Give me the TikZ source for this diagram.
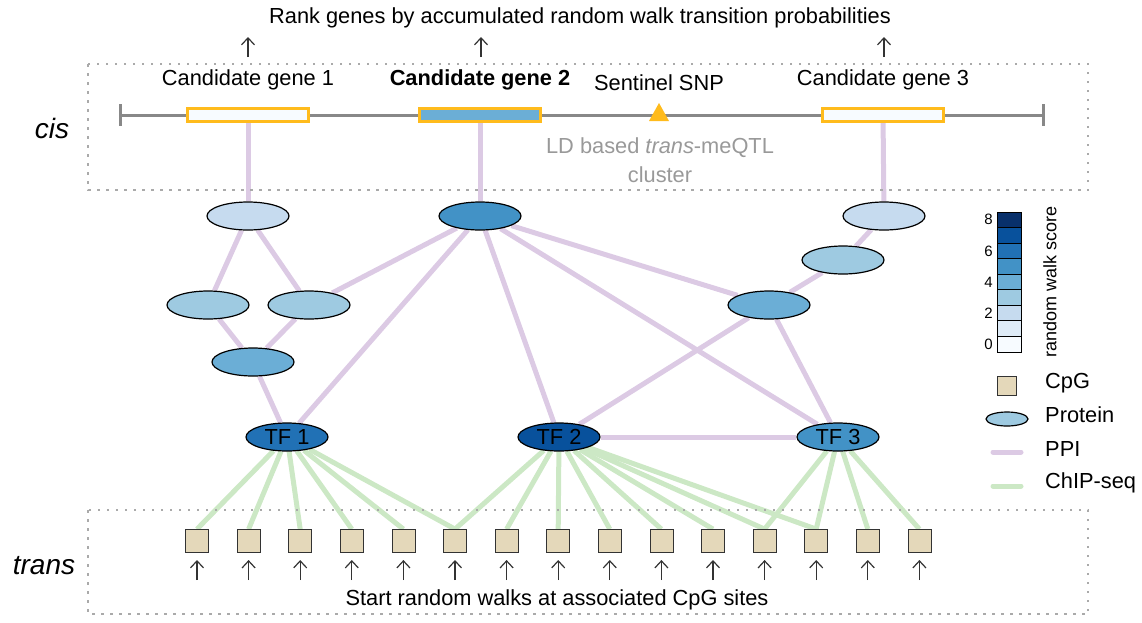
\documentclass[tikz,border=0pt]{standalone}
\usepackage{fontspec}
\setmainfont{Liberation Sans}
\usetikzlibrary{shapes.geometric,arrows.meta}
\pgfdeclarelayer{bg}
\pgfsetlayers{bg,main}
\definecolor{b1}{HTML}{F7FBFF}
\definecolor{b2}{HTML}{DEEBF7}
\definecolor{b3}{HTML}{C6DBEF}
\definecolor{b4}{HTML}{9ECAE1}
\definecolor{b5}{HTML}{6BAED6}
\definecolor{b6}{HTML}{4292C6}
\definecolor{b7}{HTML}{2171B5}
\definecolor{b8}{HTML}{08519C}
\definecolor{b9}{HTML}{08306B}
\definecolor{ppi}{HTML}{DCCAE4}
\definecolor{chip}{HTML}{CCE8C5}
\definecolor{gold}{HTML}{FFBB1C}
\definecolor{cpgfill}{HTML}{E4D8BA}
\definecolor{dotgray}{HTML}{AAAAAA}
\definecolor{ldgray}{HTML}{999999}
\definecolor{linegray}{HTML}{888888}
\definecolor{arrowgray}{HTML}{333333}
\begin{document}
\begin{tikzpicture}[x=1pt,y=-1pt,font=\fontsize{21.8}{26}\selectfont,
  prot/.style={ellipse,draw=black,line width=1.2pt,minimum width=82pt,minimum height=28pt,inner sep=0pt},
  cpg/.style={rectangle,draw=black!80,fill=cpgfill,line width=0.8pt,minimum size=23pt,inner sep=0pt},
  genebox/.style={rectangle,draw=gold,line width=3pt,minimum width=121pt,minimum height=13pt,inner sep=0pt},
  ppiedge/.style={draw=ppi,line width=5pt},
  chipedge/.style={draw=chip,line width=5pt},
  clusterbox/.style={draw=dotgray,line width=2.5pt,dash pattern=on 2.5pt off 6.5pt},
  uparrow/.style={-{Straight Barb[length=7pt,width=13pt]},line width=1.2pt,draw=arrowgray},
  lbl/.style={inner sep=0pt}]
\useasboundingbox (0,0) rectangle (1142,622);

% cluster boxes
\draw[clusterbox] (88,64) rectangle (1088,190);
\draw[clusterbox] (88,510) rectangle (1088,614);

% labels
\node[lbl] (title) at (580,18) {Rank genes by accumulated random walk transition probabilities};
\node[lbl] (bottom) at (557,600) {Start random walks at associated CpG sites};
\node[lbl,font=\fontsize{28}{32}\selectfont\itshape] (cis) at (52,128) {cis};
\node[lbl,font=\fontsize{28}{32}\selectfont\itshape] (trans) at (44,566) {trans};

% gene line
\draw[linegray,line width=3pt] (120,115) -- (1043,115);
\draw[linegray,line width=3pt] (120,104) -- (120,126);
\draw[linegray,line width=3pt] (1043,104) -- (1043,126);

\node[genebox,fill=b1] (g1) at (248,114.5) {};
\node[genebox,fill=b5] (g2) at (480,114.5) {};
\node[genebox,fill=b1] (g3) at (883,114.5) {};
\fill[gold] (649,121) -- (669,121) -- (659,103) -- cycle;

\node[lbl] (g1l) at (248,80) {Candidate gene 1};
\node[lbl,font=\fontsize{21.8}{26}\selectfont\bfseries] (g2l) at (480,80) {Candidate gene 2};
\node[lbl] (snpl) at (659,83) {Sentinel SNP};
\node[lbl] (g3l) at (883,80) {Candidate gene 3};
\node[lbl,text=ldgray] (ld1) at (660,148) {LD based \textit{trans}-meQTL};
\node[lbl,text=ldgray] (ld2) at (660,175) {cluster};

% top arrows
\coordinate (a1s) at (248,57); \coordinate (a1e) at (248,37);
\coordinate (a2s) at (481,57); \coordinate (a2e) at (481,37);
\coordinate (a3s) at (884,57); \coordinate (a3e) at (884,37);
\draw[uparrow] (a1s) -- (a1e);
\draw[uparrow] (a2s) -- (a2e);
\draw[uparrow] (a3s) -- (a3e);

% proteins
\node[prot,fill=b3] (p1) at (248,216) {};
\node[prot,fill=b6] (p2) at (480,216) {};
\node[prot,fill=b3] (p3) at (884,216) {};
\node[prot,fill=b4] (p4) at (208,305) {};
\node[prot,fill=b4] (p5) at (309,305) {};
\node[prot,fill=b5] (p6) at (253,362) {};
\node[prot,fill=b4] (p7) at (843,260) {};
\node[prot,fill=b5] (p8) at (769,305) {};
\node[prot,fill=b7] (tf1) at (287,437) {TF 1};
\node[prot,fill=b8] (tf2) at (559,437) {TF 2};
\node[prot,fill=b6] (tf3) at (838,437) {TF 3};

% CpGs
\foreach \i in {1,...,15} {
  \node[cpg] (c\i) at ({197+(\i-1)*51.6},541) {};
  \coordinate (ua\i) at ({197+(\i-1)*51.6},580);
  \coordinate (ub\i) at ({197+(\i-1)*51.6},560);
  \draw[uparrow] (ua\i) -- (ub\i);
}

\begin{pgfonlayer}{bg}
  \draw[ppiedge] (g1) -- (p1);
  \draw[ppiedge] (g2) -- (p2);
  \draw[ppiedge] (g3) -- (p3);
  \draw[ppiedge] (p1) -- (p4);
  \draw[ppiedge] (p1) -- (p5);
  \draw[ppiedge] (p4) -- (p6);
  \draw[ppiedge] (p5) -- (p6);
  \draw[ppiedge] (p6) -- (tf1);
  \draw[ppiedge] (p5) -- (p2);
  \draw[ppiedge] (p2) -- (tf1);
  \draw[ppiedge] (p2) -- (tf2);
  \draw[ppiedge] (p2) -- (p8);
  \draw[ppiedge] (p2) -- (tf3);
  \draw[ppiedge] (p8) -- (tf2);
  \draw[ppiedge] (p8) -- (tf3);
  \draw[ppiedge] (p8) -- (p7);
  \draw[ppiedge] (p7) -- (p3);
  \draw[ppiedge] (tf2) -- (tf3);
  \foreach \i in {1,...,6} \draw[chipedge] (tf1) -- (c\i.north);
  \foreach \i in {6,...,13} \draw[chipedge] (tf2) -- (c\i.north);
  \foreach \i in {12,...,15} \draw[chipedge] (tf3) -- (c\i.north);
\end{pgfonlayer}

% colour bar
\foreach \i in {1,...,9} {
  \draw[fill=b\i,line width=0.8pt] (997,{352-\i*15.56}) rectangle (1021,{352-(\i-1)*15.56});
}
\foreach \v/\i in {0/1,2/3,4/5,6/7,8/9} {
  \node[lbl,anchor=east,font=\fontsize{15}{18}\selectfont] (cb\v) at (993,{352-(\i-0.5)*15.56}) {\v};
}
\node[lbl,rotate=90,font=\fontsize{18}{21}\selectfont] (cbt) at (1050,282) {random walk score};

% legend
\node[cpg,minimum size=19pt] (lcpg) at (1007,386) {};
\node[lbl,anchor=west] (lcpgt) at (1045,383) {CpG};
\node[prot,fill=b4,minimum width=42pt,minimum height=14pt] (lprot) at (1007,419) {};
\node[lbl,anchor=west] (lprott) at (1045,415) {Protein};
\coordinate (lppia) at (993,452); \coordinate (lppib) at (1021,452);
\draw[ppiedge,line cap=round] (lppia) -- (lppib);
\node[lbl,anchor=west] (lppit) at (1045,449) {PPI};
\coordinate (lchipa) at (993,486); \coordinate (lchipb) at (1021,486);
\draw[chipedge,line cap=round] (lchipa) -- (lchipb);
\node[lbl,anchor=west] (lchipt) at (1045,483) {ChIP-seq};
\end{tikzpicture}
\end{document}
